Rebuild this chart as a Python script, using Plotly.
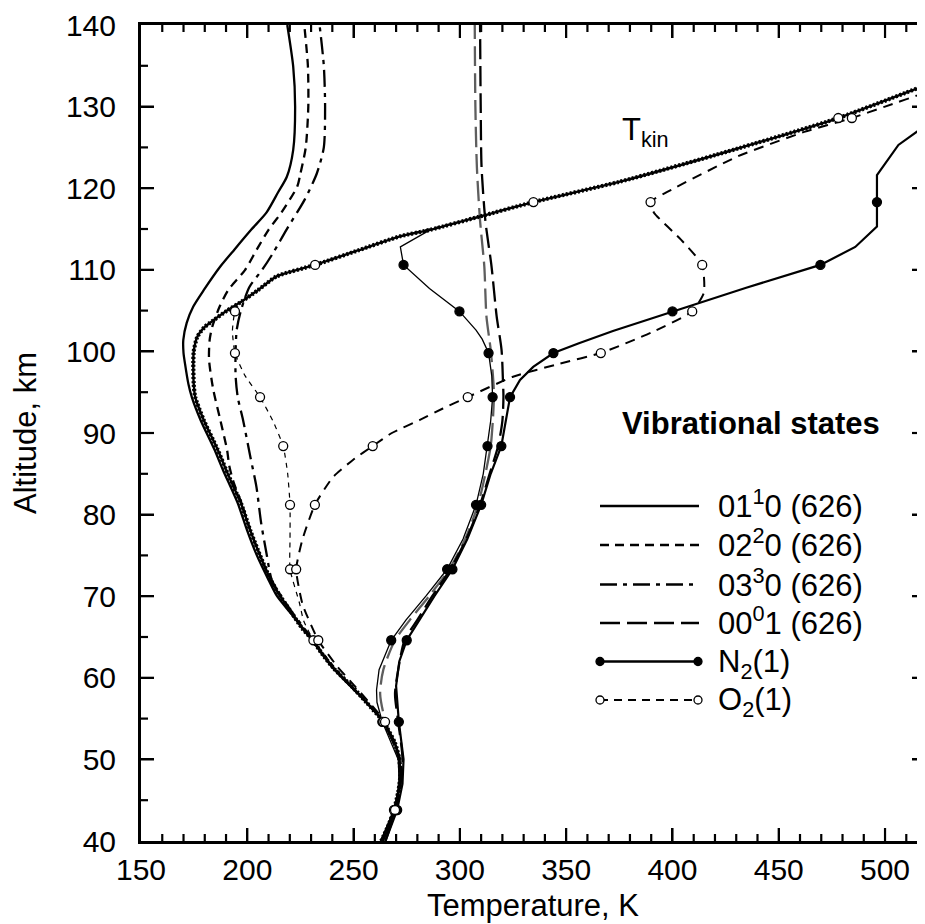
import plotly.graph_objects as go

# ---------------- data (altitude km, temperature K) ----------------
GRID_ALT = [43.8, 54.6, 64.6, 73.3, 81.2, 88.4, 94.4, 99.8, 104.9, 110.6, 118.3, 128.6]

TKIN_ALT = [40, 42, 43.8, 46, 48, 50, 52, 54.6, 57, 59, 61.2, 63, 64.6, 66, 67.9, 70, 72, 75, 78,
            81.4, 84, 85.5, 88, 91.6, 94.4, 96, 98.5, 100, 101.8, 103, 103.8, 105, 106.1, 107.5,
            109.2, 110.6, 112.4, 114.1, 114.9, 116.5, 118.3, 120.8, 124.5, 128.6, 132.6, 135]
TKIN_T = [263, 266.5, 269, 271, 272, 271.5, 269.5, 264, 256, 249, 240.5, 235, 230.8, 226, 221,
          215.5, 211, 206, 201.5, 197, 192.5, 190, 186, 179.5, 175.5, 174.8, 174.6, 174.8, 176.5,
          180, 184, 190.5, 197.3, 205, 213.8, 231.9, 252.4, 271.8, 286, 309, 334.6, 375.3, 426,
          478, 518.8, 543]

C1_ALT = [40, 43.8, 46, 50, 54.6, 57, 61.2, 64.6, 67.9, 70, 72, 75, 78, 81.4, 85.5, 88, 91.6,
          94.4, 96, 98.5, 99.8, 101.4, 103.5, 105.5, 107.5, 110.4, 112.5, 114.9, 117, 119.5,
          121.4, 124.7, 130, 134.9, 140]
C1_T = [263, 269, 271, 271.5, 264, 256, 240.3, 230.5, 220.5, 214, 210, 204.5, 200, 195.5, 188.5,
        184.5, 178, 173.9, 172.3, 170.7, 170, 169.9, 171.5, 174.6, 179.5, 187.3, 194, 201.8, 209,
        214.5, 218.6, 221.6, 222.5, 221.6, 218.8]

C2_ALT = [40, 43.8, 46, 50, 54.6, 57, 61.2, 64.6, 67.9, 70, 72, 75, 78, 81.4, 84, 86, 87.9, 91.6,
          95.3, 99, 101.4, 103, 105.5, 107.5, 110, 112.5, 114.9, 117, 120.2, 121.8, 125, 130,
          135, 140]
C2_T = [263, 269, 271, 271.5, 264, 256, 240.5, 230.8, 221, 215.5, 211, 206, 201.5, 197.3, 193.5,
        191.5, 190.5, 187.3, 184, 182, 182.3, 183.5, 187, 191, 199, 204.5, 210, 216, 223.5,
        225, 227.5, 228.7, 228.5, 226.8]

C3_ALT = [40, 43.8, 46, 50, 54.6, 57, 61.2, 64.6, 67.9, 70, 72, 75.3, 79, 83.4, 87, 91.6, 94.4,
          97, 100, 102.6, 105, 107.9, 110, 112, 114.9, 118.6, 121.8, 125, 130, 135, 140]
C3_T = [263, 269, 271, 271.5, 264, 256, 240.5, 231, 221.5, 216, 211.5, 209, 206.5, 204.3, 201.5,
        198, 195.5, 194.5, 194.5, 195, 197, 201, 207, 212, 218.4, 227, 232.7, 236, 236.6, 236, 234]

D1_ALT = [40, 45, 50, 54.6, 58, 61, 64.6, 67.1, 70, 73.3, 77, 81.2, 85, 88.4, 91.5, 94.4, 96.1,
          100.2, 104.3, 110.4, 116, 122.6, 130, 140]
D1_T = [264, 270.5, 271.5, 265, 262.5, 264, 269.5, 276.5, 285.5, 295, 302.5, 308.5, 312, 314.5,
        315.5, 316, 315.8, 314.5, 312.5, 311.5, 309.5, 308, 307.3, 307]
D2_ALT = D1_ALT
D2_T = [265, 271, 273, 271, 269.5, 271, 274, 280, 287, 295.5, 303, 309.5, 314, 318, 320, 320.5,
        320.3, 319.6, 317.3, 314.9, 312, 310.2, 309.8, 309.5]

N2A_ALT = [40, 43.8, 47, 50, 54.6, 57, 58.5, 61, 64.6, 67.1, 70, 73.3, 77, 81.2, 85, 88.4, 91.5,
           94.4, 97, 99.8, 101.5, 102.6, 104.9, 107.7, 110.6, 112.8, 114.9]
N2A_T = [264, 270, 271.5, 271, 263.5, 261, 260.8, 262, 267.7, 274.7, 284, 294, 301.5, 307.6, 311,
         313, 314.5, 315.4, 315, 313.5, 310.5, 307.6, 299.8, 285.7, 273.5, 272, 286]

N2B_ALT = [40, 43.8, 47, 50, 54.6, 59, 62, 64.6, 67.1, 70, 73.3, 77, 81.2, 85, 88.4, 91.5, 94.4,
           96.5, 98.1, 99.8, 101, 102.5, 104.9, 107.8, 110.6, 112.8, 115.3, 118.3, 121.6, 125.3,
           127.5, 129.5]
N2B_T = [265, 270.5, 273, 273.5, 271.3, 270, 271.5, 275, 281, 288, 296.5, 303.5, 310, 314.5,
         319.5, 321.5, 323.6, 328.3, 334.5, 344, 356, 372, 400, 434.7, 469.6, 486, 496.2, 496.2,
         496.2, 506.3, 518, 530]

O2A_ALT = [40, 43.8, 48, 50, 54.6, 59, 61.5, 64.6, 67, 69.2, 73.3, 77, 81.2, 85, 88.4, 91.5, 94.4,
           97, 99.8, 102.5, 104.9, 106.1, 107.5, 109.2, 110.6, 112.4, 114.1, 116.5, 118.3, 120.8,
           124.5, 128.6, 132.6, 135]
O2A_T = [263, 269, 272, 271.5, 264, 249, 240.5, 231.1, 226.5, 224.5, 220.1, 220.1, 220.1, 219,
         216.9, 212, 206, 199, 194.2, 193, 194.2, 197.3, 205, 214, 231.9, 252.4, 271.8, 309,
         334.6, 375.3, 426, 478, 518.8, 543]

O2B_ALT = [40, 43.8, 48, 50, 54.6, 59, 61.5, 64.6, 69, 73.3, 77, 81.2, 84.6, 86.7, 88.4, 90, 91.6,
           93, 94.4, 96.9, 98.5, 99.8, 102.3, 104.9, 107.2, 110.6, 113.7, 117, 118.3, 119.8,
           123.9, 126.9, 128.6, 130, 131.7, 133.5]
O2B_T = [263.5, 269.5, 272.5, 272, 264.8, 250.5, 242, 233.4, 226, 223, 226, 231.8, 240.3, 249.7,
         259, 268, 281.2, 292, 303.7, 325, 347, 366.3, 390, 409.3, 414.8, 414, 404, 391.3, 389.7,
         399.4, 430.7, 462, 484.4, 500, 518.8, 538]

LEGEND_TITLE = "Vibrational states"
LEGEND_LABELS = ["01<sup>1</sup>0 (626)", "02<sup>2</sup>0 (626)", "03<sup>3</sup>0 (626)",
                 "00<sup>0</sup>1 (626)", "N<sub>2</sub>(1)", "O<sub>2</sub>(1)"]
TKIN_LABEL = "T<sub>kin</sub>"
X_TITLE = "Temperature, K"
Y_TITLE = "Altitude, km"

X_RANGE = [150, 518.8]
Y_RANGE = [40, 140]
X_MAJOR, X_MINOR = 50, 10
Y_MAJOR, Y_MINOR = 10, 5

# ---------------- figure ----------------
FONT = "Liberation Sans, Arial, Helvetica, sans-serif"
fig = go.Figure()


def add_line(alt, temp, width, dash="solid", color="black", shape="spline", smooth=0.7):
    line = dict(color=color, width=width, dash=dash, shape=shape)
    if shape == "spline":
        line["smoothing"] = smooth
    fig.add_trace(go.Scatter(x=temp, y=alt, mode="lines", line=line,
                             hoverinfo="skip", showlegend=False))


def add_marks(alt, temp, filled):
    xs, ys = [], []
    for a, t in zip(alt, temp):
        if any(abs(a - g) < 1e-6 for g in GRID_ALT) and t <= X_RANGE[1]:
            xs.append(t)
            ys.append(a)
    fig.add_trace(go.Scatter(
        x=xs, y=ys, mode="markers", hoverinfo="skip", showlegend=False,
        marker=dict(symbol="circle", size=9,
                    color="black" if filled else "white",
                    line=dict(color="black", width=1.3))))


DASH_C2 = "9px,6px"
DASH_C3 = "17px,6px,4px,6px"
DASH_D = "20px,7px"
DASH_O2A = "5px,5px"
DASH_O2B = "10px,7px"

add_line(C3_ALT, C3_T, 2.3, DASH_C3)
add_line(C2_ALT, C2_T, 2.3, DASH_C2)
add_line(C1_ALT, C1_T, 2.3)
add_line(D1_ALT, D1_T, 2.3, DASH_D, color="#5e5e5e")
add_line(D2_ALT, D2_T, 2.3, DASH_D)
add_line(TKIN_ALT, TKIN_T, 2.4, smooth=0.6)
add_line(TKIN_ALT, TKIN_T, 4.2, "2px,2px", smooth=0.6)
add_line(N2A_ALT, N2A_T, 1.3, shape="linear")
add_line(N2B_ALT, N2B_T, 2.2, shape="linear")
add_line(O2A_ALT, O2A_T, 1.2, DASH_O2A, smooth=0.5)
add_line(O2B_ALT, O2B_T, 2.0, DASH_O2B, smooth=0.5)
add_marks(N2A_ALT, N2A_T, True)
add_marks(N2B_ALT, N2B_T, True)
add_marks(O2A_ALT, O2A_T, False)
add_marks(O2B_ALT, O2B_T, False)

# ---------------- layout geometry (page has an 8 px body margin) ----------------
OFF = 8
W, H = 925 - OFF, 924 - OFF
ML, MR, MT, MB = 141 - OFF, 0, 25 - OFF, 83
PW, PH = W - ML - MR, H - MT - MB


def px(x):
    return (x - OFF - ML) / PW


def py(y):
    return (H - MB - (y - OFF)) / PH


shapes = []
annotations = []

# inside tick marks on all four sides (major and minor), drawn as short shapes
MAJOR_LEN, MINOR_LEN = 13, 7


def tick_marks(rng, step, major_step, axis):
    k = 1
    while rng[0] + k * step < rng[1]:
        v = rng[0] + k * step
        is_major = (k * step) % major_step == 0
        ln = MAJOR_LEN if is_major else MINOR_LEN
        for base, sgn in ((0, 1), (1, -1)):
            if axis == "x":
                shapes.append(dict(type="line", xref="x", yref="paper", x0=v, x1=v,
                                   y0=base, y1=base + sgn * ln / PH,
                                   line=dict(color="black", width=2.2), layer="above"))
            else:
                shapes.append(dict(type="line", xref="paper", yref="y", y0=v, y1=v,
                                   x0=base, x1=base + sgn * ln / PW,
                                   line=dict(color="black", width=2.2), layer="above"))
        k += 1


tick_marks(X_RANGE, X_MINOR, X_MAJOR, "x")
tick_marks(Y_RANGE, Y_MINOR, Y_MAJOR, "y")

# hand-drawn legend (paper coordinates)
row_y = [506, 545, 584.5, 623, 661.5, 700]
styles = [("solid", 2.5), (DASH_C2, 2.5), (DASH_C3, 2.5), (DASH_D, 2.5), ("solid", 2.5), ("8px,6px", 2.2)]
x0, x1 = px(600), px(699)
for i, (lab, yy, (dash, wd)) in enumerate(zip(LEGEND_LABELS, row_y, styles)):
    shapes.append(dict(type="line", xref="paper", yref="paper", x0=x0, x1=x1, y0=py(yy), y1=py(yy),
                       line=dict(color="black", width=wd, dash=dash)))
    if i >= 4:
        for xe in (600, 698):
            shapes.append(dict(type="circle", xref="paper", yref="paper",
                               xsizemode="pixel", ysizemode="pixel",
                               xanchor=px(xe), yanchor=py(yy), x0=-4, x1=4, y0=-4, y1=4,
                               fillcolor="black" if i == 4 else "white",
                               line=dict(color="black", width=1.3)))
    annotations.append(dict(text=lab, xref="paper", yref="paper", x=px(716), y=py(yy + (2 if i >= 4 else -2)),
                            xanchor="left", yanchor="middle", showarrow=False,
                            font=dict(family=FONT, size=31, color="black")))

annotations.append(dict(text="<b>" + LEGEND_TITLE + "</b>", xref="paper", yref="paper",
                        x=px(751), y=py(423), xanchor="center", yanchor="middle", showarrow=False,
                        font=dict(family=FONT, size=31, color="black")))
annotations.append(dict(text=TKIN_LABEL, xref="paper", yref="paper",
                        x=px(620), y=py(132), xanchor="left", yanchor="middle", showarrow=False,
                        font=dict(family=FONT, size=31, color="black")))

axis_style = dict(showgrid=False, zeroline=False, ticks="inside", ticklen=MAJOR_LEN, tickwidth=2.2,
                  tickcolor="black", linecolor="black", linewidth=3, showline=True, mirror="ticks",
                  tickfont=dict(family=FONT, size=30, color="black"))

fig.update_layout(
    template="none",
    width=W, height=H,
    margin=dict(l=ML, r=MR, t=MT, b=MB, pad=0),
    paper_bgcolor="white", plot_bgcolor="white",
    showlegend=False,
    font=dict(family=FONT, size=30, color="black"),
    shapes=shapes, annotations=annotations,
    xaxis=dict(range=X_RANGE, tick0=X_RANGE[0], dtick=X_MAJOR,
               title=dict(text=X_TITLE, standoff=10, font=dict(family=FONT, size=31, color="black")),
               **axis_style),
    yaxis=dict(range=Y_RANGE, tick0=Y_RANGE[0], dtick=Y_MAJOR, ticklabelstandoff=16,
               title=dict(text=Y_TITLE, standoff=21, font=dict(family=FONT, size=31, color="black")),
               **axis_style),
)

fig.write_html("out.html")
